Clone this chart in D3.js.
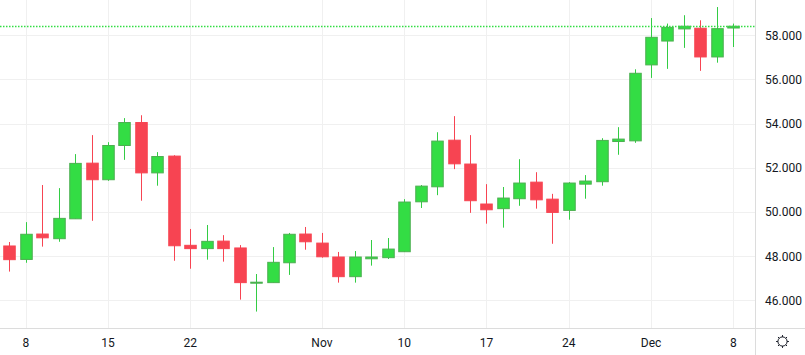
<!DOCTYPE html>
<html>
<head>
<meta charset="utf-8">
<script src="https://cdn.jsdelivr.net/npm/d3@7/dist/d3.min.js"></script>
<style>
  html, body { margin: 0; padding: 0; background: #ffffff; }
  svg { display: block; }
  text { font-family: Roboto, "Open Sans", "DejaVu Sans", sans-serif; font-size: 12px; fill: #131722; }
</style>
</head>
<body>
<svg id="chart" width="805" height="355"></svg>
<script>
// ---- data (business days, Oct 7 – Dec 8, 2025) ----
const dates = [
  "2025-10-07","2025-10-08","2025-10-09","2025-10-10",
  "2025-10-13","2025-10-14","2025-10-15","2025-10-16","2025-10-17",
  "2025-10-20","2025-10-21","2025-10-22","2025-10-23","2025-10-24",
  "2025-10-27","2025-10-28","2025-10-29","2025-10-30","2025-10-31",
  "2025-11-03","2025-11-04","2025-11-05","2025-11-06","2025-11-07",
  "2025-11-10","2025-11-11","2025-11-12","2025-11-13","2025-11-14",
  "2025-11-17","2025-11-18","2025-11-19","2025-11-20","2025-11-21",
  "2025-11-24","2025-11-25","2025-11-26","2025-11-27","2025-11-28",
  "2025-12-01","2025-12-02","2025-12-03","2025-12-04","2025-12-05",
  "2025-12-08"
];
const open = [
  48.46, 47.85, 49.00, 48.79, 49.69, 52.21, 51.46, 53.01, 54.05, 51.77,
  52.53, 48.49, 48.34, 48.68, 48.37, 46.80, 46.80, 47.70, 49.00, 48.59,
  47.96, 47.07, 47.88, 47.93, 48.20, 50.46, 51.14, 53.25, 52.17, 50.36,
  50.15, 50.60, 51.35, 50.58, 50.07, 51.26, 51.37, 53.19, 53.22, 56.66,
  57.74, 58.29, 58.32, 57.02, 58.33
];
const high = [
  48.64, 49.54, 51.22, 51.08, 52.62, 53.48, 53.16, 54.25, 54.38, 52.71,
  52.57, 49.23, 49.41, 48.95, 48.50, 47.19, 48.41, 49.05, 49.32, 49.05,
  48.19, 48.23, 48.73, 48.82, 50.58, 51.22, 53.61, 54.34, 53.48, 51.26,
  51.13, 52.39, 51.80, 50.82, 51.35, 51.67, 53.34, 53.84, 56.46, 58.78,
  58.53, 58.91, 58.68, 59.28, 58.53
];
const low = [
  47.30, 47.70, 48.43, 48.65, 49.69, 49.60, 51.41, 52.36, 50.51, 51.19,
  47.79, 47.43, 47.84, 47.75, 46.03, 45.49, 46.80, 47.15, 48.29, 47.93,
  46.80, 46.80, 47.57, 47.87, 48.20, 50.18, 50.76, 51.94, 49.96, 49.47,
  49.29, 50.28, 50.15, 48.56, 49.65, 50.60, 51.19, 52.59, 53.13, 56.07,
  56.48, 57.43, 56.39, 56.76, 57.47
];
const close = [
  47.84, 48.99, 48.83, 49.71, 52.20, 51.46, 53.01, 54.05, 51.77, 52.51,
  48.47, 48.34, 48.67, 48.34, 46.80, 46.82, 47.72, 48.99, 48.65, 47.97,
  47.07, 47.96, 47.96, 48.32, 50.45, 51.17, 53.21, 52.18, 50.51, 50.10,
  50.63, 51.31, 50.55, 49.98, 51.31, 51.40, 53.24, 53.30, 56.28, 57.91,
  58.36, 58.41, 57.02, 58.30, 58.41
];
const priceTicks = [46, 48, 50, 52, 54, 56, 58];
const tickDates = ["2025-10-08","2025-10-15","2025-10-22","2025-11-03","2025-11-10",
                   "2025-11-17","2025-11-24","2025-12-01","2025-12-08"];
const tickLabels = ["8","15","22","Nov","10","17","24","Dec","8"];

// ---- layout ----
const W = 805, H = 355;
const plotRight = 755, plotBottom = 328;
const upFill = "#33dd44", upBorder = "#4caf50", upWick = "#33cc44";
const downColor = "#f74452";
const gridColor = "#f0f0f0", borderColor = "#dcdcdc";

const candles = dates.map((d, i) => ({ date: d, o: open[i], h: high[i], l: low[i], c: close[i] }));

const x = d3.scalePoint().domain(dates).range([9.3, 733.3]);
const y = d3.scaleLinear().domain([46, 58]).range([300.3, 35.3]);

const svg = d3.select("#chart");

// grid
const grid = svg.append("g");
grid.selectAll("line.h").data(priceTicks).join("line")
  .attr("x1", 0).attr("x2", plotRight)
  .attr("y1", d => Math.round(y(d)) + 0.5).attr("y2", d => Math.round(y(d)) + 0.5)
  .attr("stroke", gridColor).attr("stroke-width", 1);
grid.selectAll("line.v").data(tickDates).join("line")
  .attr("x1", d => Math.round(x(d)) + 0.5).attr("x2", d => Math.round(x(d)) + 0.5)
  .attr("y1", 0).attr("y2", plotBottom)
  .attr("stroke", gridColor).attr("stroke-width", 1);

// candles
const bodyW = 11.5;
const g = svg.append("g");
const cg = g.selectAll("g.c").data(candles).join("g");
cg.append("line")
  .attr("x1", d => Math.round(x(d.date)) + 0.5).attr("x2", d => Math.round(x(d.date)) + 0.5)
  .attr("y1", d => y(d.h)).attr("y2", d => y(d.l))
  .attr("stroke", d => d.c >= d.o ? upWick : downColor).attr("stroke-width", 1);
cg.append("rect")
  .attr("x", d => Math.round(x(d.date)) + 0.5 - bodyW / 2)
  .attr("width", bodyW)
  .attr("y", d => y(Math.max(d.o, d.c)))
  .attr("height", d => Math.max(1, Math.abs(y(d.o) - y(d.c))))
  .attr("fill", d => d.c >= d.o ? upFill : downColor)
  .attr("stroke", d => d.c >= d.o ? upBorder : downColor)
  .attr("stroke-width", 1);

// last price line (dotted)
const last = close[close.length - 1];
svg.append("line")
  .attr("x1", 0).attr("x2", plotRight)
  .attr("y1", Math.round(y(last)) + 0.5).attr("y2", Math.round(y(last)) + 0.5)
  .attr("stroke", upFill).attr("stroke-width", 1.3)
  .attr("stroke-dasharray", "1.5,1.5");

// borders
svg.append("line").attr("x1", plotRight + 0.5).attr("x2", plotRight + 0.5)
  .attr("y1", 0).attr("y2", H).attr("stroke", borderColor);
svg.append("line").attr("x1", 0).attr("x2", W)
  .attr("y1", plotBottom + 0.5).attr("y2", plotBottom + 0.5).attr("stroke", borderColor);

// price axis
const fmt = d3.format(".3f");
svg.append("g").selectAll("text").data(priceTicks).join("text")
  .attr("x", 765).attr("y", d => y(d) + 4.5)
  .text(d => fmt(d));

// time axis
svg.append("g").selectAll("text").data(tickDates).join("text")
  .attr("x", d => x(d)).attr("y", 346.5)
  .attr("text-anchor", "middle")
  .text((d, i) => tickLabels[i]);

// settings (sun) icon in the corner
const icon = svg.append("g").attr("transform", "translate(782.5,341.5)");
icon.append("circle").attr("r", 4.6).attr("fill", "none").attr("stroke", "#131722").attr("stroke-width", 1);
icon.selectAll("line").data(d3.range(8)).join("line")
  .attr("x1", d => 4.6 * Math.cos(d * Math.PI / 4)).attr("y1", d => 4.6 * Math.sin(d * Math.PI / 4))
  .attr("x2", d => 6.4 * Math.cos(d * Math.PI / 4)).attr("y2", d => 6.4 * Math.sin(d * Math.PI / 4))
  .attr("stroke", "#131722").attr("stroke-width", 1);
</script>
</body>
</html>
